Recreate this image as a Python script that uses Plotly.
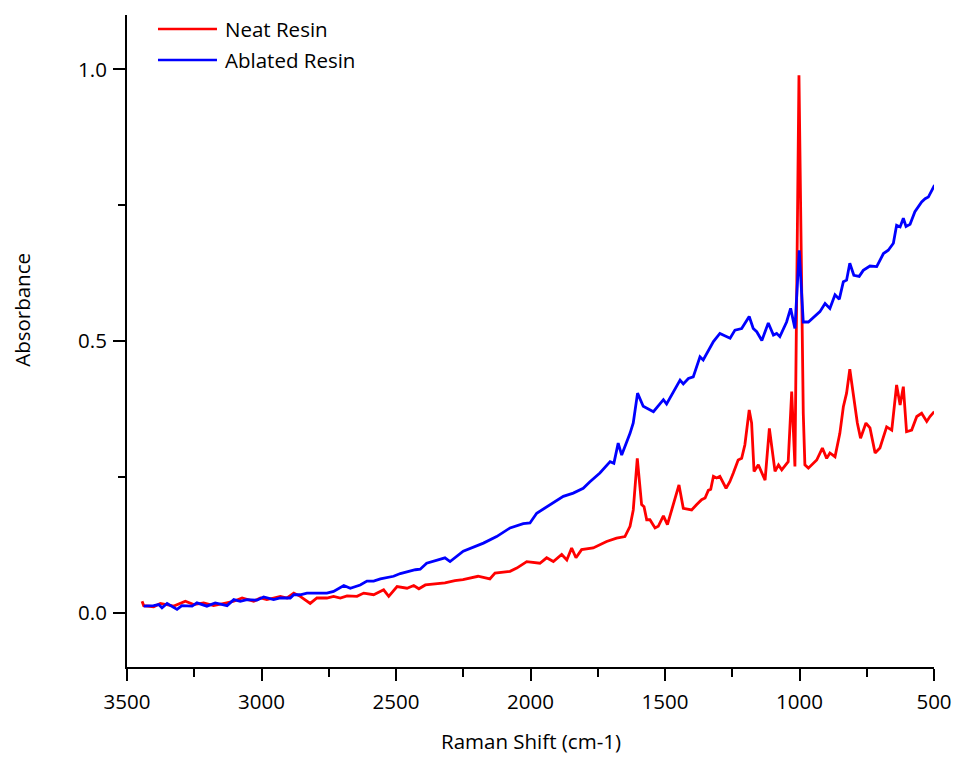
import plotly.graph_objects as go

# Neat Resin spectrum (Raman shift cm-1, absorbance)
neat_x = [3444, 3438, 3401, 3376, 3326, 3283, 3252, 3215, 3178, 3141, 3103, 3072, 3029, 3004, 2980,
          2955, 2930, 2905, 2880, 2856, 2819, 2794, 2757, 2732, 2707, 2682, 2645, 2620, 2583, 2546,
          2527, 2496, 2459, 2434, 2415, 2391, 2355, 2318, 2281, 2251, 2195, 2151, 2132, 2076, 2051,
          2014, 1965, 1940, 1915, 1884, 1865, 1847, 1831, 1810, 1767, 1717, 1680, 1649, 1630, 1618,
          1603, 1587, 1578, 1568, 1556, 1537, 1525, 1506, 1491, 1475, 1463, 1448, 1432, 1417, 1401,
          1382, 1364, 1351, 1339, 1330, 1320, 1308, 1296, 1273, 1259, 1246, 1228, 1215, 1203, 1187,
          1178, 1169, 1153, 1128, 1112, 1091, 1078, 1066, 1042, 1029, 1017, 1002, 986, 980, 967,
          936, 915, 899, 887, 868, 850, 837, 825, 813, 798, 785, 773, 753, 738, 719,
          701, 676, 657, 639, 626, 614, 602, 583, 564, 546, 527, 515, 499]
neat_y = [0.021, 0.013, 0.011, 0.017, 0.012, 0.021, 0.015, 0.018, 0.013, 0.017, 0.021, 0.027, 0.021, 0.027, 0.024,
          0.027, 0.030, 0.027, 0.036, 0.030, 0.017, 0.027, 0.027, 0.030, 0.027, 0.031, 0.030, 0.036, 0.033, 0.042,
          0.030, 0.048, 0.045, 0.050, 0.044, 0.051, 0.053, 0.055, 0.059, 0.061, 0.067, 0.062, 0.073, 0.076, 0.082,
          0.094, 0.091, 0.101, 0.094, 0.107, 0.097, 0.119, 0.101, 0.116, 0.119, 0.131, 0.137, 0.140, 0.159, 0.189,
          0.284, 0.199, 0.195, 0.171, 0.171, 0.156, 0.159, 0.178, 0.162, 0.189, 0.205, 0.235, 0.192, 0.191, 0.189,
          0.199, 0.208, 0.211, 0.225, 0.227, 0.251, 0.248, 0.251, 0.229, 0.241, 0.257, 0.281, 0.284, 0.309, 0.373,
          0.349, 0.260, 0.272, 0.244, 0.339, 0.260, 0.272, 0.263, 0.278, 0.407, 0.269, 0.989, 0.367, 0.272, 0.266,
          0.281, 0.303, 0.284, 0.294, 0.287, 0.330, 0.379, 0.404, 0.448, 0.398, 0.349, 0.321, 0.349, 0.340, 0.294,
          0.303, 0.342, 0.336, 0.419, 0.382, 0.416, 0.333, 0.336, 0.361, 0.367, 0.352, 0.361, 0.370]

# Ablated Resin spectrum
abl_x = [3438, 3401, 3382, 3370, 3351, 3314, 3296, 3258, 3240, 3203, 3172, 3128, 3103, 3079, 3054,
         3017, 2992, 2955, 2930, 2893, 2880, 2856, 2831, 2794, 2757, 2732, 2694, 2670, 2633, 2608,
         2583, 2558, 2533, 2509, 2484, 2453, 2428, 2410, 2386, 2318, 2299, 2250, 2175, 2126, 2076,
         2027, 2002, 1977, 1915, 1878, 1841, 1804, 1779, 1742, 1704, 1690, 1674, 1661, 1630, 1618,
         1602, 1581, 1543, 1506, 1494, 1463, 1444, 1432, 1413, 1395, 1370, 1358, 1339, 1320, 1296,
         1258, 1240, 1215, 1187, 1172, 1159, 1140, 1116, 1097, 1085, 1073, 1048, 1033, 1017, 1001,
         986, 967, 924, 905, 887, 868, 852, 837, 825, 813, 798, 778, 763, 738, 713,
         688, 670, 651, 639, 626, 614, 604, 589, 571, 546, 533, 521, 508, 498]
abl_y = [0.012, 0.013, 0.015, 0.009, 0.017, 0.006, 0.013, 0.012, 0.018, 0.012, 0.018, 0.013, 0.024, 0.021, 0.024,
         0.023, 0.029, 0.024, 0.027, 0.027, 0.033, 0.033, 0.036, 0.036, 0.036, 0.039, 0.050, 0.045, 0.051, 0.058,
         0.058, 0.062, 0.064, 0.067, 0.072, 0.076, 0.079, 0.080, 0.091, 0.101, 0.094, 0.113, 0.128, 0.140, 0.156,
         0.164, 0.165, 0.183, 0.202, 0.214, 0.220, 0.229, 0.241, 0.257, 0.278, 0.275, 0.312, 0.290, 0.330, 0.349,
         0.404, 0.380, 0.370, 0.392, 0.384, 0.413, 0.428, 0.421, 0.431, 0.434, 0.471, 0.465, 0.483, 0.499, 0.514,
         0.505, 0.520, 0.523, 0.545, 0.523, 0.517, 0.501, 0.533, 0.511, 0.514, 0.508, 0.535, 0.560, 0.523, 0.667,
         0.535, 0.535, 0.554, 0.569, 0.560, 0.585, 0.577, 0.609, 0.612, 0.643, 0.621, 0.619, 0.630, 0.638, 0.637,
         0.661, 0.667, 0.680, 0.713, 0.710, 0.726, 0.711, 0.715, 0.738, 0.756, 0.762, 0.765, 0.776, 0.787]

series_names = ["Neat Resin", "Ablated Resin"]
series_colors = ["#FF0000", "#0000FF"]

x_ticks = [3500, 3000, 2500, 2000, 1500, 1000, 500]
y_ticks = [0.0, 0.5, 1.0]

FONT = "Open Sans"
FS = 20.5

fig = go.Figure()
fig.add_trace(go.Scatter(x=neat_x, y=neat_y, mode="lines", name=series_names[0],
                         line=dict(color=series_colors[0], width=2.8), showlegend=False))
fig.add_trace(go.Scatter(x=abl_x, y=abl_y, mode="lines", name=series_names[1],
                         line=dict(color=series_colors[1], width=2.8), showlegend=False))

# custom legend (long line samples as in the reference)
leg_y = [0.9785, 0.931]
for name, col, yy in zip(series_names, series_colors, leg_y):
    fig.add_shape(type="line", xref="paper", yref="paper", x0=0.0384, x1=0.1115, y0=yy, y1=yy,
                  line=dict(color=col, width=2.6))
    fig.add_annotation(xref="paper", yref="paper", x=0.119, y=yy, text=name, showarrow=False,
                       xanchor="left", yanchor="middle", font=dict(family=FONT, size=FS, color="#000"))

# axis titles
fig.add_annotation(xref="paper", yref="paper", x=0.5, y=-0.113, text="Raman Shift (cm-1)",
                   showarrow=False, xanchor="center", yanchor="middle",
                   font=dict(family=FONT, size=FS, color="#000"))
fig.add_annotation(xref="paper", yref="paper", x=-0.130, y=0.548, text="Absorbance", textangle=-90,
                   showarrow=False, xanchor="center", yanchor="middle",
                   font=dict(family=FONT, size=FS, color="#000"))

fig.update_layout(
    width=953, height=757,
    margin=dict(l=127, r=19, t=15, b=90, autoexpand=False),
    paper_bgcolor="white", plot_bgcolor="white",
    font=dict(family=FONT, size=FS, color="#000"),
)
fig.update_xaxes(range=[3500, 500], tickvals=x_ticks, ticktext=[str(v) for v in x_ticks],
                 automargin=False,
                 showgrid=False, zeroline=False, showline=True, linecolor="black", linewidth=2,
                 ticks="outside", ticklen=12, tickwidth=2, tickcolor="black",
                 minor=dict(dtick=250, ticks="outside", ticklen=8, tickwidth=2, tickcolor="black"),
                 tickfont=dict(family=FONT, size=FS, color="#000"), ticklabelstandoff=3)
fig.update_yaxes(range=[-0.1, 1.1], tickvals=y_ticks, ticktext=["0.0", "0.5", "1.0"],
                 automargin=False,
                 showgrid=False, zeroline=False, showline=True, linecolor="black", linewidth=2,
                 ticks="outside", ticklen=12, tickwidth=2, tickcolor="black",
                 minor=dict(tickvals=[0.25, 0.75], ticks="outside", ticklen=7, tickwidth=2, tickcolor="black"),
                 tickfont=dict(family=FONT, size=FS, color="#000"), ticklabelstandoff=2)

fig.write_html("out.html", config={"displayModeBar": False},
               post_script="document.body.style.margin='0';document.body.style.overflow='hidden';")
